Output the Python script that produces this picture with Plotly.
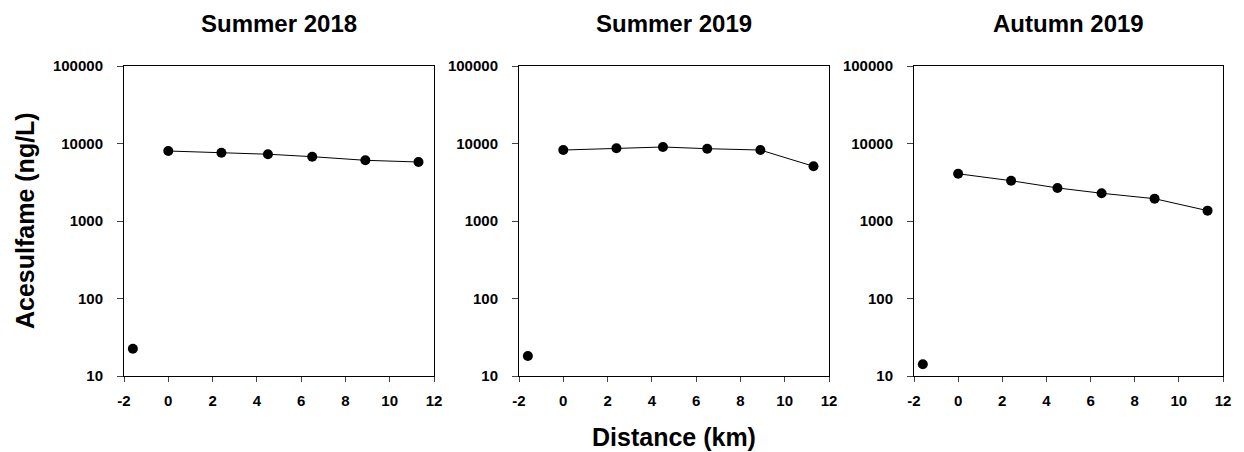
import plotly.graph_objects as go

panels = ["Summer 2018", "Summer 2019", "Autumn 2019"]
distance = [0, 2.4, 4.5, 6.5, 8.9, 11.3]
ref_distance = [-1.6]
summer2018 = [8000, 7600, 7270, 6760, 6070, 5770]
summer2019 = [8240, 8670, 9010, 8570, 8240, 5080]
autumn2019 = [4070, 3310, 2670, 2280, 1940, 1360]
ref_values = [22.5, 18.1, 14.2]
y_ticks = [10, 100, 1000, 10000, 100000]
x_ticks = [-2, 0, 2, 4, 6, 8, 10, 12]

series = [summer2018, summer2019, autumn2019]
W, H = 1244, 452
x_px = [(124, 434), (519, 829), (914, 1223)]
y_top, y_bot = 66, 376
font = "Arial, Liberation Sans, sans-serif"


def px(x):
    return x / W


def py(y):
    return 1 - y / H


fig = go.Figure()
layout = dict(width=W, height=H, margin=dict(l=0, r=0, t=0, b=0),
              paper_bgcolor="white", plot_bgcolor="white", showlegend=False,
              template="none", annotations=[])
for i, (name, vals) in enumerate(zip(panels, series)):
    suffix = "" if i == 0 else str(i + 1)
    xa, ya = "x" + suffix, "y" + suffix
    fig.add_trace(go.Scatter(x=distance, y=vals, mode="lines+markers",
                             line=dict(color="black", width=1),
                             marker=dict(color="black", size=10),
                             xaxis=xa, yaxis=ya))
    fig.add_trace(go.Scatter(x=ref_distance, y=[ref_values[i]], mode="markers",
                             marker=dict(color="black", size=10),
                             xaxis=xa, yaxis=ya))
    x0, x1 = x_px[i]
    common = dict(showline=True, linecolor="black", linewidth=1, mirror=True,
                  ticks="outside", tickcolor="#444", showgrid=False, automargin=False,
                  zeroline=False, tickfont=dict(family=font, size=15, color="black",
                                                weight="bold"))
    layout["xaxis" + suffix] = dict(domain=[px(x0), px(x1)], range=[-2, 12],
                                    tickvals=x_ticks, ticktext=[str(v) for v in x_ticks],
                                    ticklen=5, ticklabelstandoff=6, anchor=ya, **common)
    layout["yaxis" + suffix] = dict(domain=[py(y_bot), py(y_top)], type="log",
                                    range=[1, 5], tickvals=y_ticks, ticklen=6,
                                    ticklabelstandoff=11,
                                    ticktext=[str(v) for v in y_ticks], anchor=xa, **common)
    layout["annotations"].append(dict(text="<b>" + name + "</b>", x=px((x0 + x1) / 2),
                                      y=py(24), xref="paper", yref="paper",
                                      showarrow=False, xanchor="center", yanchor="middle",
                                      font=dict(family=font, size=24, color="black")))

layout["annotations"].append(dict(text="<b>Acesulfame (ng/L)</b>", x=px(25), y=py(221),
                                  xref="paper", yref="paper", showarrow=False, textangle=-90,
                                  xanchor="center", yanchor="middle",
                                  font=dict(family=font, size=25, color="black")))
layout["annotations"].append(dict(text="<b>Distance (km)</b>", x=px(674), y=py(437),
                                  xref="paper", yref="paper", showarrow=False,
                                  xanchor="center", yanchor="middle",
                                  font=dict(family=font, size=25, color="black")))
fig.update_layout(**layout)
fig.write_html("out.html", config={"displayModeBar": False},
               post_script="document.body.style.margin='0';"
                           "document.body.style.overflow='hidden';")
